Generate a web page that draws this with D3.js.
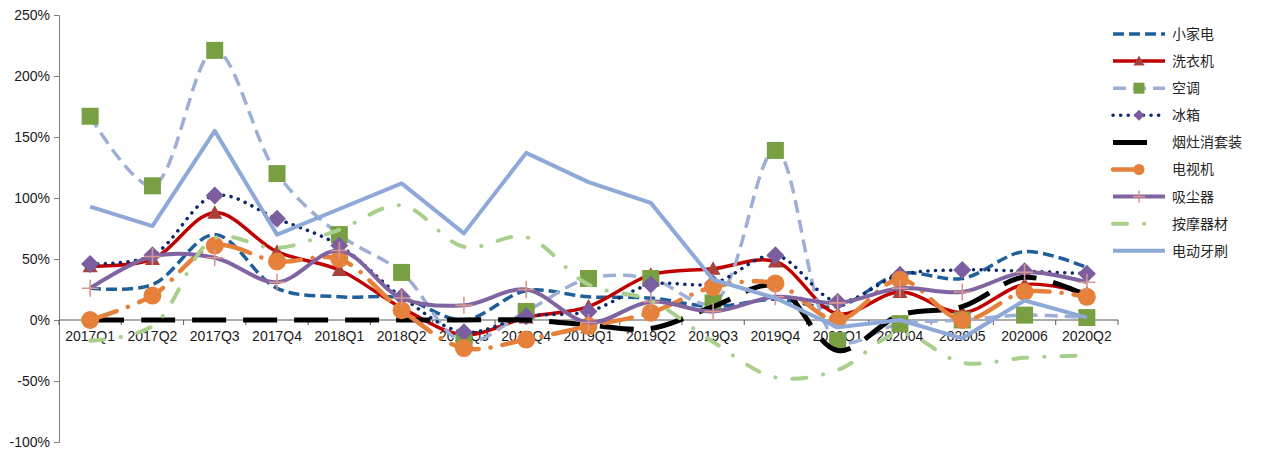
<!DOCTYPE html>
<html><head><meta charset="utf-8">
<script src="https://cdn.jsdelivr.net/npm/d3@7"></script>
<style>body{margin:0;background:#fff}svg{display:block}</style>
</head><body><svg id="c" width="1261" height="451"></svg>
<script>
const categories = ["2017Q1","2017Q2","2017Q3","2017Q4","2018Q1","2018Q2","2018Q3","2018Q4","2019Q1","2019Q2","2019Q3","2019Q4","2020Q1","202004","202005","202006","2020Q2"];
const yTicks = [-100,-50,0,50,100,150,200,250];
const xiaojiadian = [26,29,70,26,19,18,0,24,19,18,11,17,11,38,34,56,43];
const xiyiji = [44,50,88,56,41,10,-12,2,11,37,42,48,5,23,6,29,22];
const kongtiao = [167,110,221,120,70,39,-18,7,34,34,14,139,-17,-3,0,4,2];
const bingxiang = [46,53,102,83,61,19,-10,3,7,29,30,53,15,37,41,40,38];
const yanzao = [0,0,0,0,0,0,0,0,-4,-7,11,28,-25,4,11,35,20];
const dianshiji = [0,20,61,48,50,8,-23,-16,-5,6,27,30,0,33,0,23,19];
const xichenqi = [26,52,51,31,57,18,12,25,-2,15,7,19,14,26,23,39,31];
const anmo = [-17,-5,67,59,74,94,60,68,29,16,-18,-47,-41,-11,-35,-31,-29];
const yashua = [93,77,155,70,91,112,71,137,113,96,33,18,-6,0,-15,16,2];

const seriesNames = ["小家电","洗衣机","空调","冰箱","烟灶消套装","电视机","吸尘器","按摩器材","电动牙刷"];
const seriesValues = [xiaojiadian,xiyiji,kongtiao,bingxiang,yanzao,dianshiji,xichenqi,anmo,yashua];

const styles = [
  {color:"#215F9A", w:3.5, dash:"11,5", cap:"butt", smooth:true, marker:null, lx2:1165},
  {color:"#C00000", w:3.5, dash:null, cap:"butt", smooth:true, marker:"triangle", mcolor:"#A9403B", ms:15, lx2:1165},
  {color:"#9DAFD6", w:3.5, dash:"13,7", cap:"butt", smooth:true, marker:"square", mcolor:"#78A042", ms:17, lx2:1165},
  {color:"#0E2A6B", w:3.5, dash:"0.1,7.5", cap:"round", smooth:true, marker:"diamond", mcolor:"#7B5EA0", ms:18, lx2:1165},
  {color:"#000000", w:5, dash:"34,17", cap:"butt", smooth:true, marker:null, lx2:1150},
  {color:"#E5813A", w:4.5, dash:"28,12,0.1,12", cap:"round", smooth:true, marker:"circle", mcolor:"#E5813A", ms:18, lx2:1150},
  {color:"#8064A2", w:4, dash:null, cap:"butt", smooth:true, marker:"plus", mcolor:"#D9958F", ms:17, lx2:1165},
  {color:"#A9CF8C", w:4, dash:"14,17,0.1,17", cap:"round", smooth:true, marker:null, lx2:1160},
  {color:"#8EA9D8", w:4, dash:null, cap:"butt", smooth:false, marker:null, lx2:1165}
];

const svg = d3.select("#c");
const x = d3.scaleBand().domain(categories).range([59,1118]);
const y = d3.scaleLinear().domain([-100,250]).range([442,15]);

// axes
const yAxis = d3.axisLeft(y).tickValues(yTicks).tickSize(5).tickFormat(d=>d+"%");
const gy = svg.append("g").attr("transform","translate(59,0)").call(yAxis);
gy.select(".domain").attr("stroke","#7f7f7f");
gy.selectAll(".tick line").attr("stroke","#7f7f7f");
gy.selectAll("text").attr("font-family","'Liberation Sans',Arial,sans-serif").attr("font-size","14px").attr("fill","#1a1a1a").attr("x",-9);

const gx = svg.append("g").attr("transform",`translate(0,${y(0)})`);
gx.append("line").attr("x1",59).attr("x2",1118).attr("stroke","#595959").attr("stroke-width",1);
const bounds = categories.map(c=>x(c)).concat([x(categories[categories.length-1])+x.bandwidth()]);
gx.selectAll("line.tk").data(bounds).join("line").attr("class","tk")
  .attr("x1",d=>d).attr("x2",d=>d).attr("y1",0).attr("y2",5).attr("stroke","#595959");
gx.selectAll("text").data(categories).join("text")
  .attr("x",d=>x(d)+x.bandwidth()/2).attr("y",16).attr("dy","0.35em").attr("text-anchor","middle")
  .attr("font-family","'Liberation Sans',Arial,sans-serif").attr("font-size","14px").attr("fill","#1a1a1a").text(d=>d);

// series
function markerPath(type,s){
  const h=s/2;
  if(type==="square") return `M${-h},${-h}H${h}V${h}H${-h}Z`;
  if(type==="diamond") return `M0,${-h}L${h},0L0,${h}L${-h},0Z`;
  if(type==="triangle") return `M0,${-h}L${h},${h*0.8}L${-h},${h*0.8}Z`;
  if(type==="plus") return `M${-h},0H${h}M0,${-h}V${h}`;
  return null;
}
function drawMarker(g,type,cx,cy,s,color){
  if(type==="circle"){ g.append("circle").attr("cx",cx).attr("cy",cy).attr("r",s/2).attr("fill",color); return; }
  const p = g.append("path").attr("transform",`translate(${cx},${cy})`).attr("d",markerPath(type,s));
  if(type==="plus") p.attr("fill","none").attr("stroke",color).attr("stroke-width",1.6);
  else p.attr("fill",color);
}

const plot = svg.append("g");
seriesValues.forEach((vals,i)=>{
  const st = styles[i];
  const line = d3.line().x((d,j)=>x(categories[j])+x.bandwidth()/2).y(d=>y(d))
    .curve(st.smooth? d3.curveCatmullRom.alpha(0.5) : d3.curveLinear);
  const g = plot.append("g");
  g.append("path").attr("d",line(vals)).attr("fill","none").attr("stroke",st.color)
    .attr("stroke-width",st.w).attr("stroke-dasharray",st.dash).attr("stroke-linecap",st.cap).attr("stroke-linejoin","round");
  if(st.marker){
    vals.forEach((v,j)=>drawMarker(g,st.marker,x(categories[j])+x.bandwidth()/2,y(v),st.ms,st.mcolor));
  }
});

// legend
const lg = svg.append("g");
seriesNames.forEach((n,i)=>{
  const st = styles[i];
  const yy = 34 + i*27.1;
  lg.append("line").attr("x1",1113).attr("x2",st.lx2).attr("y1",yy).attr("y2",yy)
    .attr("stroke",st.color).attr("stroke-width",st.w).attr("stroke-dasharray",st.dash).attr("stroke-linecap",st.cap);
  if(st.marker) drawMarker(lg,st.marker,1139,yy,st.marker==="plus"?12:11,st.mcolor);
  lg.append("text").attr("x",1172).attr("y",yy).attr("dy","0.35em")
    .attr("font-family","'Noto Sans CJK SC',sans-serif").attr("font-size","14px").attr("fill","#262626").text(n);
});
</script></body></html>
